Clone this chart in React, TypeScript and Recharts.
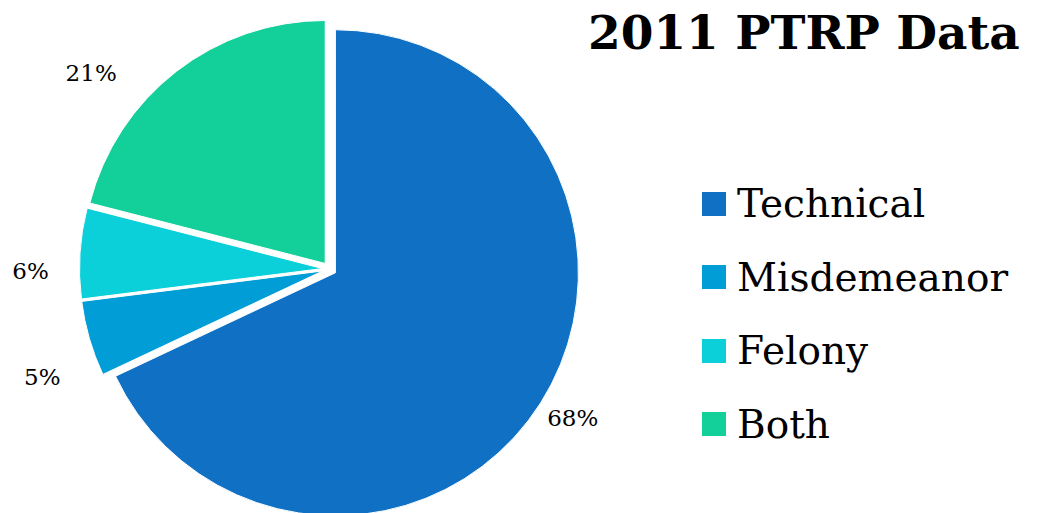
import React from 'react';
import { PieChart, Pie, Cell, Legend } from 'recharts';

const categories = ['Technical', 'Misdemeanor', 'Felony', 'Both'];
const shares = [68, 5, 6, 21];
const percentLabels = ['68%', '5%', '6%', '21%'];
const colors = ['#1070C4', '#009DD6', '#0BD0D9', '#13CF99'];
const title = '2011 PTRP Data';

const W = 1039;
const H = 513;
const CX = 329.5;
const CY = 269;
const R = 243;
const EXPLODE = 7;
const START = 90;
const END = -270;
const labelAngleShift = [1, 4.6, 4.0, 13];
const labelRadius = [278, 300, 292, 302];
const FONT = '"DejaVu Serif", serif';

const data = categories.map((name, i) => ({ name, value: shares[i] }));
const total = shares.reduce((a, b) => a + b, 0);
const midAngles = shares.map((v, i) => {
  const before = shares.slice(0, i).reduce((a, b) => a + b, 0);
  return START + ((END - START) * (before + v / 2)) / total;
});
const RAD = Math.PI / 180;

const makeLabel = (which: number) => (props: any) => {
  if (props.index !== which) return null;
  const a = (props.midAngle + labelAngleShift[which]) * RAD;
  const r = labelRadius[which];
  const x = props.cx + r * Math.cos(a);
  const y = props.cy - r * Math.sin(a);
  return (
    <text x={x} y={y} textAnchor="middle" dominantBaseline="central" fontFamily={FONT} fontSize={23} fill="#000">
      {percentLabels[which]}
    </text>
  );
};

const renderLegend = () => (
  <div style={{ fontFamily: FONT }}>
    {categories.map((c, i) => (
      <div key={c} style={{ display: 'flex', alignItems: 'center', height: 73.5 }}>
        <div style={{ width: 24, height: 24, background: colors[i], marginRight: 11, flex: 'none' }} />
        <span style={{ fontSize: 39, lineHeight: '73.5px', color: '#000', whiteSpace: 'nowrap' }}>{c}</span>
      </div>
    ))}
  </div>
);

export default function App() {
  return (
    <div style={{ position: 'fixed', left: 0, top: 0, width: W, height: H, background: '#fff', overflow: 'hidden' }}>
      <PieChart width={W} height={H} margin={{ top: 0, right: 0, bottom: 0, left: 0 }}>
        {categories.map((_, i) => {
          const m = midAngles[i] * RAD;
          return (
            <Pie
              key={i}
              data={data}
              dataKey="value"
              nameKey="name"
              cx={CX + EXPLODE * Math.cos(m)}
              cy={CY - EXPLODE * Math.sin(m)}
              outerRadius={R}
              innerRadius={0}
              startAngle={START}
              endAngle={END}
              isAnimationActive={false}
              labelLine={false}
              label={makeLabel(i)}
            >
              {data.map((d, j) => (
                <Cell
                  key={d.name}
                  fill={j === i ? colors[j] : 'transparent'}
                  stroke={j === i ? '#fff' : 'none'}
                  strokeWidth={1}
                />
              ))}
            </Pie>
          );
        })}
        <Legend
          content={renderLegend}
          wrapperStyle={{ position: 'absolute', left: 702, top: 167, width: 337 }}
        />
      </PieChart>
      <svg width={W} height={H} style={{ position: 'absolute', left: 0, top: 0, pointerEvents: 'none' }}>
        <text x={588} y={49} fontFamily={FONT} fontWeight="bold" fontSize={47} fill="#000">
          {title}
        </text>
      </svg>
    </div>
  );
}
